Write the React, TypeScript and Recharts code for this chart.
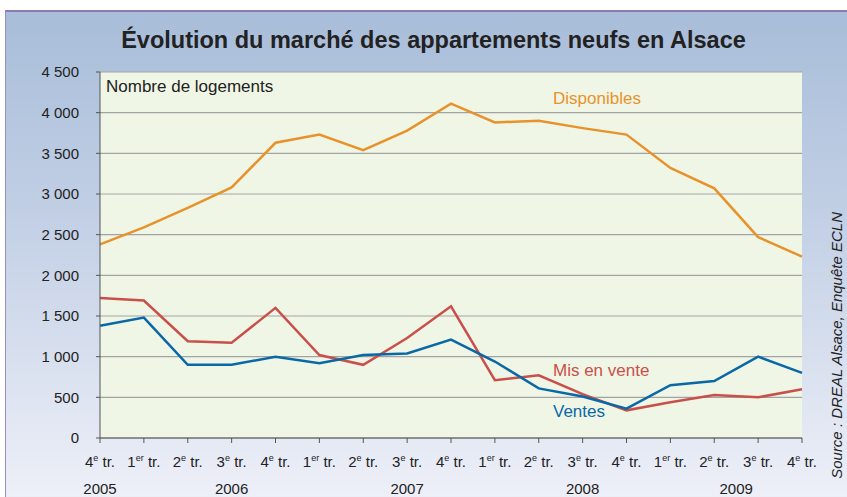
import { LineChart, Line, XAxis, YAxis, CartesianGrid } from "recharts";

const quarters = ["4", "1", "2", "3", "4", "1", "2", "3", "4", "1", "2", "3", "4", "1", "2", "3", "4"];
const disponibles = [2380, 2590, 2830, 3080, 3630, 3730, 3540, 3780, 4110, 3880, 3900, 3810, 3730, 3320, 3070, 2470, 2230];
const misEnVente = [1720, 1690, 1190, 1170, 1600, 1020, 900, 1230, 1620, 710, 770, 540, 340, 440, 530, 500, 600];
const ventes = [1380, 1480, 900, 900, 1000, 920, 1020, 1040, 1210, 940, 610, 510, 360, 650, 700, 1000, 800];
const yTicks = [0, 500, 1000, 1500, 2000, 2500, 3000, 3500, 4000, 4500];
const yearLabels = ["2005", "2006", "2007", "2008", "2009"];
const yearPositions = [0, 3, 7, 11, 14.5];

const data = quarters.map((q, i) => ({
  idx: i,
  q,
  disponibles: disponibles[i],
  misEnVente: misEnVente[i],
  ventes: ventes[i],
}));

const FONT = "'Liberation Sans Narrow', 'Liberation Sans', Arial, sans-serif";
const ORANGE = "#e8922b";
const RED = "#c9504a";
const BLUE = "#0a68a6";

const formatThousands = (v: number) =>
  v >= 1000 ? `${Math.floor(v / 1000)} ${String(v % 1000).padStart(3, "0")}` : String(v);

const QuarterTick = (props: any) => {
  const { x, y, payload } = props;
  const q = payload.value as string;
  const sup = q === "1" ? "er" : "e";
  return (
    <text x={x} y={y + 22} textAnchor="middle" fontFamily={FONT} fontSize={15} fill="#222">
      {q}
      <tspan fontSize={9} dy={-6}>{sup}</tspan>
      <tspan dy={6}> tr.</tspan>
    </text>
  );
};

const YearTick = (props: any) => {
  const { x, y, payload } = props;
  return (
    <text x={x} y={y + 18} textAnchor="middle" fontFamily={FONT} fontSize={15} fill="#222">
      {yearLabels[yearPositions.indexOf(payload.value)]}
    </text>
  );
};

export default function App() {
  return (
    <div
      style={{
        position: "absolute",
        left: 0,
        top: 0,
        width: 847,
        height: 497,
        background: "#fff",
        overflow: "hidden",
        fontFamily: FONT,
      }}
    >
      <div
        style={{
          position: "absolute",
          left: 5,
          top: 10,
          width: 842,
          height: 487,
          borderTop: "2px solid #8b7bb5",
          borderLeft: "1px solid #9a8cc0",
          background: "linear-gradient(to bottom, #a8bdd9 0%, #c4d1e6 45%, #eef0f8 100%)",
        }}
      />
      <div
        style={{
          position: "absolute",
          left: 0,
          width: 867,
          top: 27,
          textAlign: "center",
          fontFamily: "'Liberation Sans', Arial, sans-serif",
          fontWeight: "bold",
          fontSize: 23.5,
          color: "#222",
        }}
      >
        Évolution du marché des appartements neufs en Alsace
      </div>
      <div style={{ position: "absolute", left: 0, top: 0 }}>
        <LineChart
          width={847}
          height={497}
          data={data}
          margin={{ top: 72, right: 45, left: 0, bottom: 0 }}
        >
          <CartesianGrid vertical={false} fill="#f0f6e6" stroke="#a3a3a3" strokeWidth={1.2} />
          <XAxis
            dataKey="q"
            xAxisId={0}
            interval={0}
            height={30}
            stroke="#555"
            tickSize={5}
            tick={<QuarterTick />}
          />
          <XAxis
            xAxisId="year"
            type="number"
            dataKey="idx"
            domain={[0, 16]}
            ticks={yearPositions}
            interval={0}
            height={29}
            axisLine={false}
            tickLine={false}
            tick={<YearTick />}
          />
          <YAxis
            width={100}
            domain={[0, 4500]}
            ticks={yTicks}
            interval={0}
            stroke="#555"
            tickSize={4}
            tickMargin={17}
            tick={{ fontFamily: FONT, fontSize: 15, fill: "#222" }}
            tickFormatter={formatThousands}
          />
          <Line dataKey="disponibles" stroke={ORANGE} strokeWidth={2.5} dot={false} isAnimationActive={false} />
          <Line dataKey="misEnVente" stroke={RED} strokeWidth={2.5} dot={false} isAnimationActive={false} />
          <Line dataKey="ventes" stroke={BLUE} strokeWidth={2.5} dot={false} isAnimationActive={false} />
        </LineChart>
      </div>
      <div style={{ position: "absolute", left: 106, top: 77, fontSize: 17, color: "#222" }}>
        Nombre de logements
      </div>
      <div style={{ position: "absolute", left: 553, top: 89, fontSize: 17, color: ORANGE }}>
        Disponibles
      </div>
      <div style={{ position: "absolute", left: 553, top: 361, fontSize: 17, color: RED }}>
        Mis en vente
      </div>
      <div style={{ position: "absolute", left: 553, top: 402, fontSize: 17, color: BLUE }}>
        Ventes
      </div>
      <svg style={{ position: "absolute", left: 0, top: 0 }} width={847} height={497}>
        <text
          x={842}
          y={212}
          transform="rotate(-90 842 212)"
          textAnchor="end"
          fontFamily={FONT}
          fontStyle="italic"
          fontSize={15}
          fill="#222"
        >
          Source : DREAL Alsace, Enquête ECLN
        </text>
      </svg>
    </div>
  );
}
